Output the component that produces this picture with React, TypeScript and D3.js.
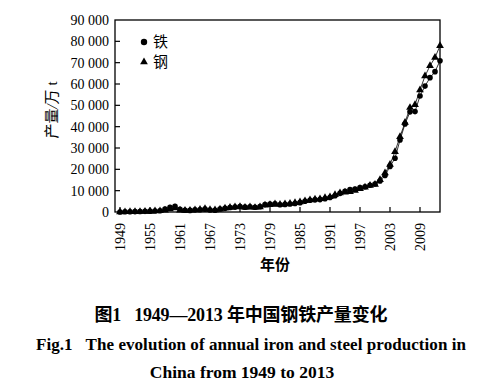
import * as d3 from "d3";

// 1949–2013 annual output, unit: 10k tonnes
const years = d3.range(1949, 2014);
const iron = [
  25, 98, 145, 193, 223, 311, 387, 483, 594, 1369, 2191, 2716, 1281, 805, 741, 1002, 1077, 1334, 971, 792,
  1434, 1706, 2109, 2303, 2529, 2267, 2449, 2233, 2505, 3479, 3673, 3802, 3417, 3551, 3738, 4001, 4384, 5064,
  5503, 5704, 5820, 6238, 6765, 7589, 8739, 9741, 10529, 10723, 11511, 11864, 12539, 13101, 14541, 17085,
  21367, 25185, 33741, 41245, 46944, 47067, 54375, 59022, 62969, 65791, 70897,
];
const steel = [
  16, 61, 90, 135, 177, 223, 285, 447, 535, 800, 1387, 1866, 870, 667, 762, 964, 1223, 1532, 1029, 904, 1333,
  1779, 2132, 2338, 2522, 2112, 2390, 2046, 2374, 3178, 3448, 3712, 3560, 3716, 4002, 4347, 4679, 5220, 5628,
  5943, 6159, 6635, 7100, 8094, 8956, 9261, 9536, 10124, 10894, 11559, 12426, 12850, 15163, 18237, 22234,
  28291, 35324, 41915, 48929, 50306, 57218, 63723, 68528, 72388, 77904,
];
const xTicks = [1949, 1955, 1961, 1967, 1973, 1979, 1985, 1991, 1997, 2003, 2009];
const yTicks = d3.range(0, 90001, 10000);

const serif = "'Liberation Serif', 'Times New Roman', serif";
const cjk = "'Noto Sans CJK SC', sans-serif";

export default function App() {
  const left = 115;
  const right = 440;
  const top = 20;
  const bottom = 212;
  const x = d3.scaleLinear().domain([1948, 2013]).range([left, right]);
  const y = d3.scaleLinear().domain([0, 90000]).range([bottom, top]);
  const fmt = d3.formatLocale({ decimal: ".", thousands: " ", grouping: [3], currency: ["", ""] }).format(",");
  const line = d3
    .line<number>()
    .x((_, i) => x(years[i]))
    .y((v) => y(v));
  const tri = d3.symbol(d3.symbolTriangle, 26)() as string;

  return (
    <svg
      width={483}
      height={388}
      viewBox="0 0 483 388"
      style={{ position: "absolute", left: 0, top: 0, background: "#fff" }}
    >
      <rect x={0} y={0} width={483} height={388} fill="#fff" />
      <rect x={left} y={top} width={right - left} height={bottom - top} fill="none" stroke="#000" strokeWidth={1.3} />

      {yTicks.map((t) => (
        <g key={t}>
          {t > 0 && t < 90000 && <line x1={left} x2={left + 5} y1={y(t)} y2={y(t)} stroke="#000" strokeWidth={1.2} />}
          <text x={109} y={y(t)} dy="0.35em" textAnchor="end" fontFamily={serif} fontSize={14}>
            {fmt(t)}
          </text>
        </g>
      ))}
      {xTicks.map((t) => (
        <g key={t}>
          <line x1={x(t)} x2={x(t)} y1={bottom} y2={bottom - 5} stroke="#000" strokeWidth={1.2} />
          <text
            transform={`translate(${x(t)},${bottom + 11}) rotate(-90)`}
            dy="0.35em"
            textAnchor="end"
            fontFamily={serif}
            fontSize={14}
          >
            {t}
          </text>
        </g>
      ))}

      <path d={line(steel) ?? ""} fill="none" stroke="#000" strokeWidth={0.8} />
      <path d={line(iron) ?? ""} fill="none" stroke="#000" strokeWidth={0.8} />
      {steel.map((v, i) => (
        <path key={`s${i}`} d={tri} transform={`translate(${x(years[i])},${y(v)})`} fill="#000" />
      ))}
      {iron.map((v, i) => (
        <circle key={`i${i}`} cx={x(years[i])} cy={y(v)} r={2.8} fill="#000" />
      ))}

      <circle cx={144} cy={42} r={3.2} fill="#000" />
      <text x={153} y={42} dy="0.35em" fontFamily={cjk} fontSize={15}>
        铁
      </text>
      <path d={tri} transform="translate(144,62)" fill="#000" />
      <text x={153} y={62} dy="0.35em" fontFamily={cjk} fontSize={15}>
        钢
      </text>

      <text
        transform="translate(52,110) rotate(-90)"
        dy="0.35em"
        textAnchor="middle"
        fontSize={15}
      >
        <tspan fontFamily={cjk}>产量</tspan>
        <tspan fontFamily={serif} fontStyle="italic">/</tspan>
        <tspan fontFamily={cjk}>万</tspan>
        <tspan fontFamily={serif}> t</tspan>
      </text>
      <text x={275} y={265} dy="0.35em" textAnchor="middle" fontFamily={cjk} fontSize={15} fontWeight={600}>
        年份
      </text>

      <text x={241} y={321} textAnchor="middle" fontSize={18} fontWeight="bold" textLength={293} lengthAdjust="spacing">
        <tspan fontFamily={cjk}>图</tspan>
        <tspan fontFamily={serif}>1&#160;&#160;&#160;1949—2013&#160;</tspan>
        <tspan fontFamily={cjk}>年中国钢铁产量变化</tspan>
      </text>
      <text
        x={251}
        y={350}
        textAnchor="middle"
        fontFamily={serif}
        fontSize={17}
        fontWeight="bold"
        textLength={430}
        lengthAdjust="spacing"
      >
        Fig.1&#160;&#160;&#160;The evolution of annual iron and steel production in
      </text>
      <text x={242} y={378} textAnchor="middle" fontFamily={serif} fontSize={17.5} fontWeight="bold">
        China from 1949 to 2013
      </text>
    </svg>
  );
}
